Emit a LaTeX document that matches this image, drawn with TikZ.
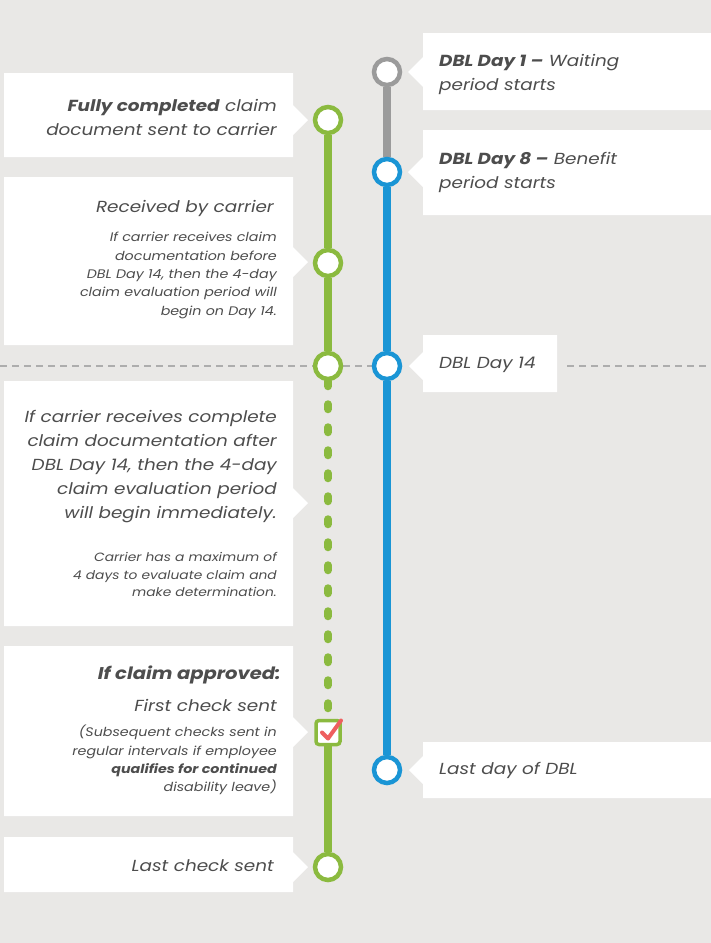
\documentclass[tikz,border=0pt]{standalone}
\usepackage{fontspec}
\setmainfont{Poppins}[FakeStretch=1.15]
\usetikzlibrary{calc,backgrounds}
\definecolor{bgpaper}{HTML}{E9E8E6}
\definecolor{claimgreen}{HTML}{8BBA3F}
\definecolor{dblblue}{HTML}{1A95D5}
\definecolor{waitgray}{HTML}{9B9B9B}
\definecolor{textgray}{HTML}{4D4D4D}
\definecolor{checkred}{HTML}{EE5F5F}
\definecolor{dashgray}{HTML}{ADADAD}

\begin{document}
\begin{tikzpicture}[x=1pt,y=-1pt,
	dot/.style={circle,draw,fill=white,line width=4.5pt,minimum size=26pt,inner sep=0pt},
	lefttxt/.style={anchor=east,align=right,inner sep=0pt,yshift=-2pt,text=textgray,font=\itshape\fontsize{16}{24}\selectfont},
	righttxt/.style={anchor=west,align=left,inner sep=0pt,yshift=-2pt,text=textgray,font=\itshape\fontsize{16}{24}\selectfont},
	smalltxt/.style={lefttxt,font=\itshape\fontsize{12.4}{18.3}\selectfont},
	track/.style={line width=8pt}]
	\useasboundingbox (0,0) rectangle (711,943);
	% white boxes on the left
	\fill[white] (4,73) -- (293,73) -- (293,105) -- (308,120) -- (293,135) -- (293,157) -- (4,157) -- cycle;
	\fill[white] (4,177) -- (293,177) -- (293,247) -- (308,262) -- (293,277) -- (293,345) -- (4,345) -- cycle;
	\fill[white] (4,381) -- (293,381) -- (293,488) -- (308,503) -- (293,518) -- (293,626) -- (4,626) -- cycle;
	\fill[white] (4,646) -- (293,646) -- (293,717) -- (308,732) -- (293,747) -- (293,816) -- (4,816) -- cycle;
	\fill[white] (4,837) -- (293,837) -- (293,852) -- (308,867) -- (293,882) -- (293,892) -- (4,892) -- cycle;
	% white boxes on the right
	\fill[white] (423,33) -- (711,33) -- (711,110) -- (423,110) -- (423,87) -- (408,72) -- (423,57) -- cycle;
	\fill[white] (423,130) -- (711,130) -- (711,215) -- (423,215) -- (423,187) -- (408,172) -- (423,157) -- cycle;
	\fill[white] (423,335) -- (557,335) -- (557,392) -- (423,392) -- (423,380) -- (409,366) -- (423,352) -- cycle;
	\fill[white] (423,742) -- (711,742) -- (711,798) -- (423,798) -- (423,784) -- (409,770) -- (423,756) -- cycle;

	% texts
	\node[lefttxt] (sent) at (277,115) {\textbf{Fully completed} claim\\document sent to carrier};
	\node[lefttxt] (recv) at (274,206) {Received by carrier};
	\node[smalltxt] (before) at (277,273.5) {If carrier receives claim\\documentation before\\DBL Day 14, then the 4-day\\claim evaluation period will\\begin on Day 14.};
	\node[lefttxt] (after) at (277,464.5) {If carrier receives complete\\claim documentation after\\DBL Day 14, then the 4-day\\claim evaluation period\\will begin immediately.};
	\node[smalltxt,font=\itshape\fontsize{12}{17.5}\selectfont] (maxdays) at (277,572.5) {Carrier has a maximum of\\4 days to evaluate claim and\\make determination.};
	\node[lefttxt,font=\bfseries\itshape\fontsize{17}{24}\selectfont] (approved) at (281,673) {If claim approved:};
	\node[lefttxt] (first) at (277,703) {First check sent};
	\node[smalltxt] (subseq) at (277,758) {(Subsequent checks sent in\\regular intervals if employee\\\textbf{qualifies for continued}\\disability leave)};
	\node[lefttxt] (last) at (274,864) {Last check sent};
	\node[righttxt] (day1) at (439,72.5) {\textbf{DBL Day 1 –} Waiting\\period starts};
	\node[righttxt] (day8) at (439,170) {\textbf{DBL Day 8 –} Benefit\\period starts};
	\node[righttxt] (day14) at (439,363) {DBL Day 14};
	\node[righttxt] (lastday) at (439,768) {Last day of DBL};

	% timeline points
	\node[dot,draw=waitgray] (w1) at (387,72) {};
	\node[dot,draw=dblblue] (b1) at (387,172) {};
	\node[dot,draw=dblblue] (b2) at (387,366) {};
	\node[dot,draw=dblblue] (b3) at (387,770) {};
	\node[dot,draw=claimgreen] (g1) at (328,120) {};
	\node[dot,draw=claimgreen] (g2) at (328,263) {};
	\node[dot,draw=claimgreen] (g3) at (328,366) {};
	\node[dot,draw=claimgreen] (g4) at (328,867) {};
	\node[draw=claimgreen,fill=white,line width=3.5pt,rounded corners=3pt,minimum size=24pt,inner sep=0pt] (chk) at (328,732.5) {};
	\draw[checkred,line width=4pt,line cap=round,line join=round] ($(chk)+(-6,0)$) -- ($(chk)+(0,6)$) -- ($(chk)+(13,-12)$);
	\coordinate (dashL) at (0,366);
	\coordinate (dashM) at (567,366);
	\coordinate (dashR) at (711,366);

	\begin{scope}[on background layer]
		\fill[bgpaper] (0,0) rectangle (711,943);
		\draw[dashgray,line width=1.2pt,dash pattern=on 7pt off 5pt] (dashL) -- (g3);
		\draw[dashgray,line width=1.2pt,dash pattern=on 7pt off 5pt] (g3) -- (b2);
		\draw[dashgray,line width=1.2pt,dash pattern=on 7pt off 5pt] (dashM) -- (dashR);
		\draw[track,waitgray] (w1) -- (b1);
		\draw[track,dblblue] (b1) -- (b2) -- (b3);
		\draw[track,claimgreen] (g1) -- (g2) -- (g3);
		\draw[track,claimgreen,line cap=round,dash pattern=on 5pt off 18pt] (g3.south) -- (chk.north);
		\draw[track,claimgreen] (chk) -- (g4);
	\end{scope}
\end{tikzpicture}
\end{document}
